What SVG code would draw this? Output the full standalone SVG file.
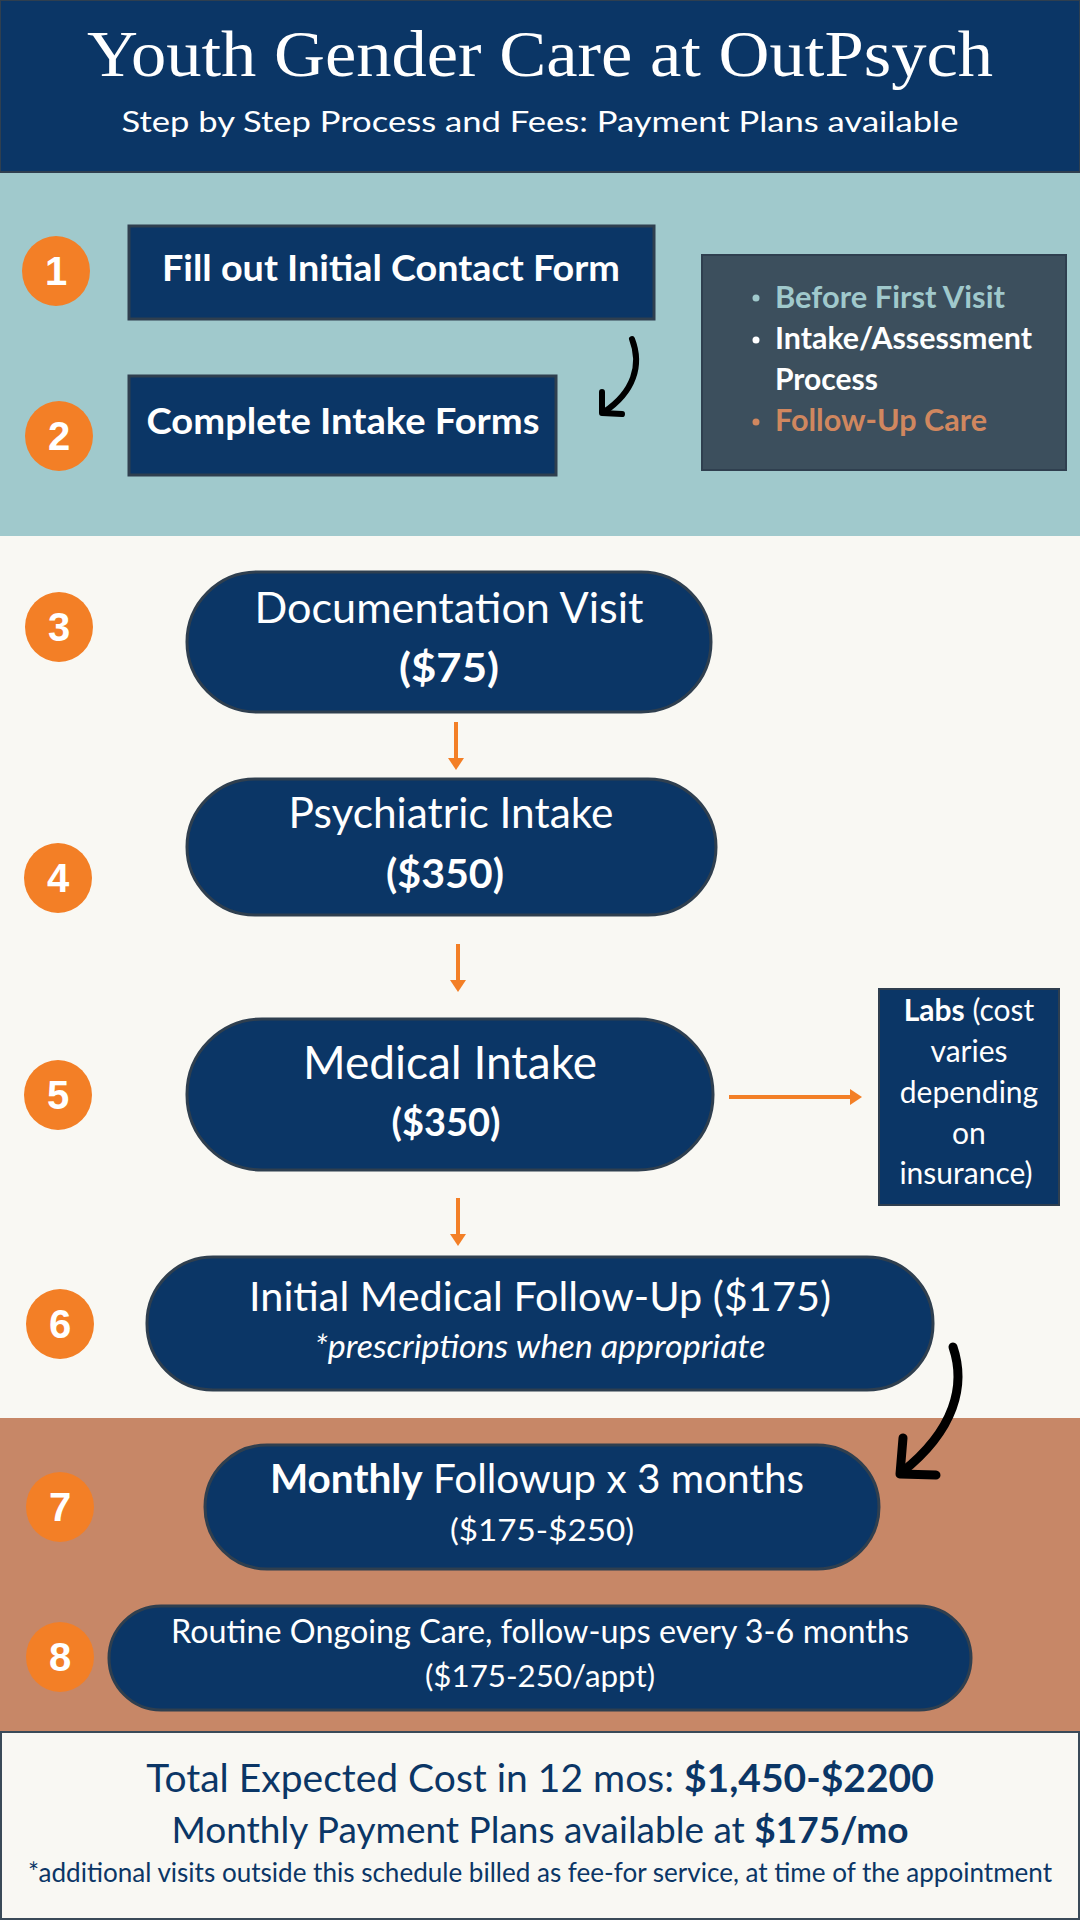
<svg xmlns="http://www.w3.org/2000/svg" width="1080" height="1920" viewBox="0 0 1080 1920">
<defs>
<style>
.navy{fill:#0B3666;stroke:#2F3F4F;stroke-width:3}
.circ{fill:#F37F26}
.num{font-family:"Liberation Sans",Arial,sans-serif;font-weight:bold;font-size:40px;fill:#FFFFFF;text-anchor:middle}
.t{font-family:Lato,"Open Sans",sans-serif;fill:#FFFFFF;text-anchor:middle}
.ft{font-family:Lato,"Open Sans",sans-serif;fill:#0B3666;text-anchor:middle}
.oline{stroke:#F37F26;stroke-width:4;fill:none}
.bline{stroke:#000000;fill:none;stroke-linecap:round;stroke-linejoin:round}
.ohead{fill:#F37F26}
</style>
</defs>

<!-- backgrounds -->
<rect x="0" y="0" width="1080" height="172" fill="#0B3666" stroke="#2F3F4F" stroke-width="2"/>
<rect x="0" y="173" width="1080" height="363" fill="#A0C9CC"/>
<rect x="0" y="536" width="1080" height="882" fill="#F9F8F3"/>
<rect x="0" y="1418" width="1080" height="313" fill="#C78767"/>
<rect x="1" y="1732" width="1078" height="187" fill="#F9F8F3" stroke="#3A4A58" stroke-width="2"/>

<g id="header">
<text x="540" y="76" font-family="'Liberation Serif','DejaVu Serif',serif" font-size="65" fill="#FFFFFF" text-anchor="middle" textLength="906" lengthAdjust="spacingAndGlyphs">Youth Gender Care at OutPsych</text>
<text x="540" y="132" class="t" font-size="29" textLength="837" lengthAdjust="spacingAndGlyphs">Step by Step Process and Fees: Payment Plans available</text>
</g>

<g id="connectors">
<path class="bline" stroke-width="6" d="M632,339 C642,365 634,392 604,412"/>
<path class="bline" stroke-width="6" d="M602,392 L602,413 L622,414"/>
<path class="bline" stroke-width="9" d="M953,1347 C966,1385 955,1430 902,1472"/>
<path class="bline" stroke-width="9" d="M903,1438 L900,1474 L936,1475"/>
<line class="oline" x1="456" y1="722" x2="456" y2="760"/>
<path class="ohead" d="M448,758 L464,758 L456,770 Z"/>
<line class="oline" x1="458" y1="944" x2="458" y2="982"/>
<path class="ohead" d="M450,980 L466,980 L458,992 Z"/>
<line class="oline" x1="458" y1="1198" x2="458" y2="1236"/>
<path class="ohead" d="M450,1234 L466,1234 L458,1246 Z"/>
<line class="oline" x1="729" y1="1097" x2="852" y2="1097"/>
<path class="ohead" d="M850,1089 L850,1105 L862,1097 Z"/>
</g>

<g id="step1">
<ellipse class="circ" cx="56" cy="271" rx="34" ry="35"/>
<text class="num" x="56" y="285">1</text>
<rect class="navy" x="129" y="226" width="525" height="93"/>
<text class="t" x="391" y="281" font-size="37" font-weight="bold" textLength="458" lengthAdjust="spacingAndGlyphs">Fill out Initial Contact Form</text>
</g>

<g id="step2">
<ellipse class="circ" cx="59" cy="436" rx="34" ry="35"/>
<text class="num" x="59" y="450">2</text>
<rect class="navy" x="129" y="376" width="427" height="99"/>
<text class="t" x="343" y="434" font-size="37" font-weight="bold" textLength="393" lengthAdjust="spacingAndGlyphs">Complete Intake Forms</text>
</g>

<g id="legend">
<rect x="702" y="255" width="364" height="215" fill="#3C4F5D" stroke="#2F3F4F" stroke-width="2"/>
<g font-family="Lato,'Open Sans',sans-serif" font-size="30" font-weight="bold">
<circle cx="756" cy="298" r="3.5" fill="#A0C9CC"/>
<text x="775" y="308" fill="#A0C9CC" textLength="230" lengthAdjust="spacingAndGlyphs">Before First Visit</text>
<circle cx="756" cy="340" r="3.5" fill="#FFFFFF"/>
<text x="775" y="349" fill="#FFFFFF" textLength="257" lengthAdjust="spacingAndGlyphs">Intake/Assessment</text>
<text x="775" y="390" fill="#FFFFFF">Process</text>
<circle cx="756" cy="422" r="3.5" fill="#D0875F"/>
<text x="775" y="431" fill="#D0875F" textLength="212" lengthAdjust="spacingAndGlyphs">Follow-Up Care</text>
</g>
</g>

<g id="step3">
<ellipse class="circ" cx="59" cy="627" rx="34" ry="35"/>
<text class="num" x="59" y="641">3</text>
<rect class="navy" x="187" y="572" width="524" height="140" rx="70"/>
<text class="t" x="449" y="623" font-size="43" textLength="389" lengthAdjust="spacingAndGlyphs">Documentation Visit</text>
<text class="t" x="449" y="682" font-size="40" font-weight="bold" textLength="100" lengthAdjust="spacingAndGlyphs">($75)</text>
</g>

<g id="step4">
<ellipse class="circ" cx="58" cy="878" rx="34" ry="35"/>
<text class="num" x="58" y="892">4</text>
<rect class="navy" x="187" y="779" width="529" height="136" rx="68"/>
<text class="t" x="451" y="828" font-size="43" textLength="325" lengthAdjust="spacingAndGlyphs">Psychiatric Intake</text>
<text class="t" x="445" y="888" font-size="40" font-weight="bold" textLength="118" lengthAdjust="spacingAndGlyphs">($350)</text>
</g>

<g id="step5">
<ellipse class="circ" cx="58" cy="1095" rx="34" ry="35"/>
<text class="num" x="58" y="1109">5</text>
<rect class="navy" x="187" y="1019" width="526" height="151" rx="75"/>
<text class="t" x="450" y="1079" font-size="46" textLength="294" lengthAdjust="spacingAndGlyphs">Medical Intake</text>
<text class="t" x="446" y="1136" font-size="38" font-weight="bold" textLength="109" lengthAdjust="spacingAndGlyphs">($350)</text>
</g>

<g id="labs">
<rect x="879" y="989" width="180" height="216" fill="#0B3666" stroke="#2F3F4F" stroke-width="2"/>
<g class="t" font-size="30">
<text x="969" y="1021"><tspan font-weight="bold">Labs</tspan> (cost</text>
<text x="969" y="1062">varies</text>
<text x="969" y="1103">depending</text>
<text x="969" y="1144">on</text>
<text x="966" y="1184">insurance)</text>
</g>
</g>

<g id="step6">
<ellipse class="circ" cx="60" cy="1324" rx="34" ry="35"/>
<text class="num" x="60" y="1338">6</text>
<rect class="navy" x="147" y="1257" width="786" height="133" rx="66"/>
<text class="t" x="540" y="1311" font-size="41.5" textLength="582" lengthAdjust="spacingAndGlyphs">Initial Medical Follow-Up ($175)</text>
<text class="t" x="540" y="1358" font-size="32" font-style="italic" textLength="451" lengthAdjust="spacingAndGlyphs">*prescriptions when appropriate</text>
</g>

<g id="step7">
<ellipse class="circ" cx="60" cy="1507" rx="34" ry="35"/>
<text class="num" x="60" y="1521">7</text>
<rect class="navy" x="205" y="1445" width="674" height="124" rx="62"/>
<text class="t" x="537" y="1493" font-size="40.5"><tspan font-weight="bold">Monthly</tspan> Followup x 3 months</text>
<text class="t" x="542" y="1541" font-size="31" textLength="184" lengthAdjust="spacingAndGlyphs">($175-$250)</text>
</g>

<g id="step8">
<ellipse class="circ" cx="60" cy="1657" rx="34" ry="35"/>
<text class="num" x="60" y="1671">8</text>
<rect class="navy" x="109" y="1606" width="862" height="104" rx="52"/>
<text class="t" x="540" y="1643" font-size="32" textLength="738" lengthAdjust="spacingAndGlyphs">Routine Ongoing Care, follow-ups every 3-6 months</text>
<text class="t" x="540" y="1687" font-size="31.5" textLength="230" lengthAdjust="spacingAndGlyphs">($175-250/appt)</text>
</g>

<g id="footer">
<text class="ft" x="540" y="1792" font-size="39">Total Expected Cost in 12 mos: <tspan font-weight="bold">$1,450-$2200</tspan></text>
<text class="ft" x="540" y="1843" font-size="37">Monthly Payment Plans available at <tspan font-weight="bold">$175/mo</tspan></text>
<text class="ft" x="540" y="1882" font-size="26" textLength="1024" lengthAdjust="spacingAndGlyphs">*additional visits outside this schedule billed as fee-for service, at time of the appointment</text>
</g>
</svg>
